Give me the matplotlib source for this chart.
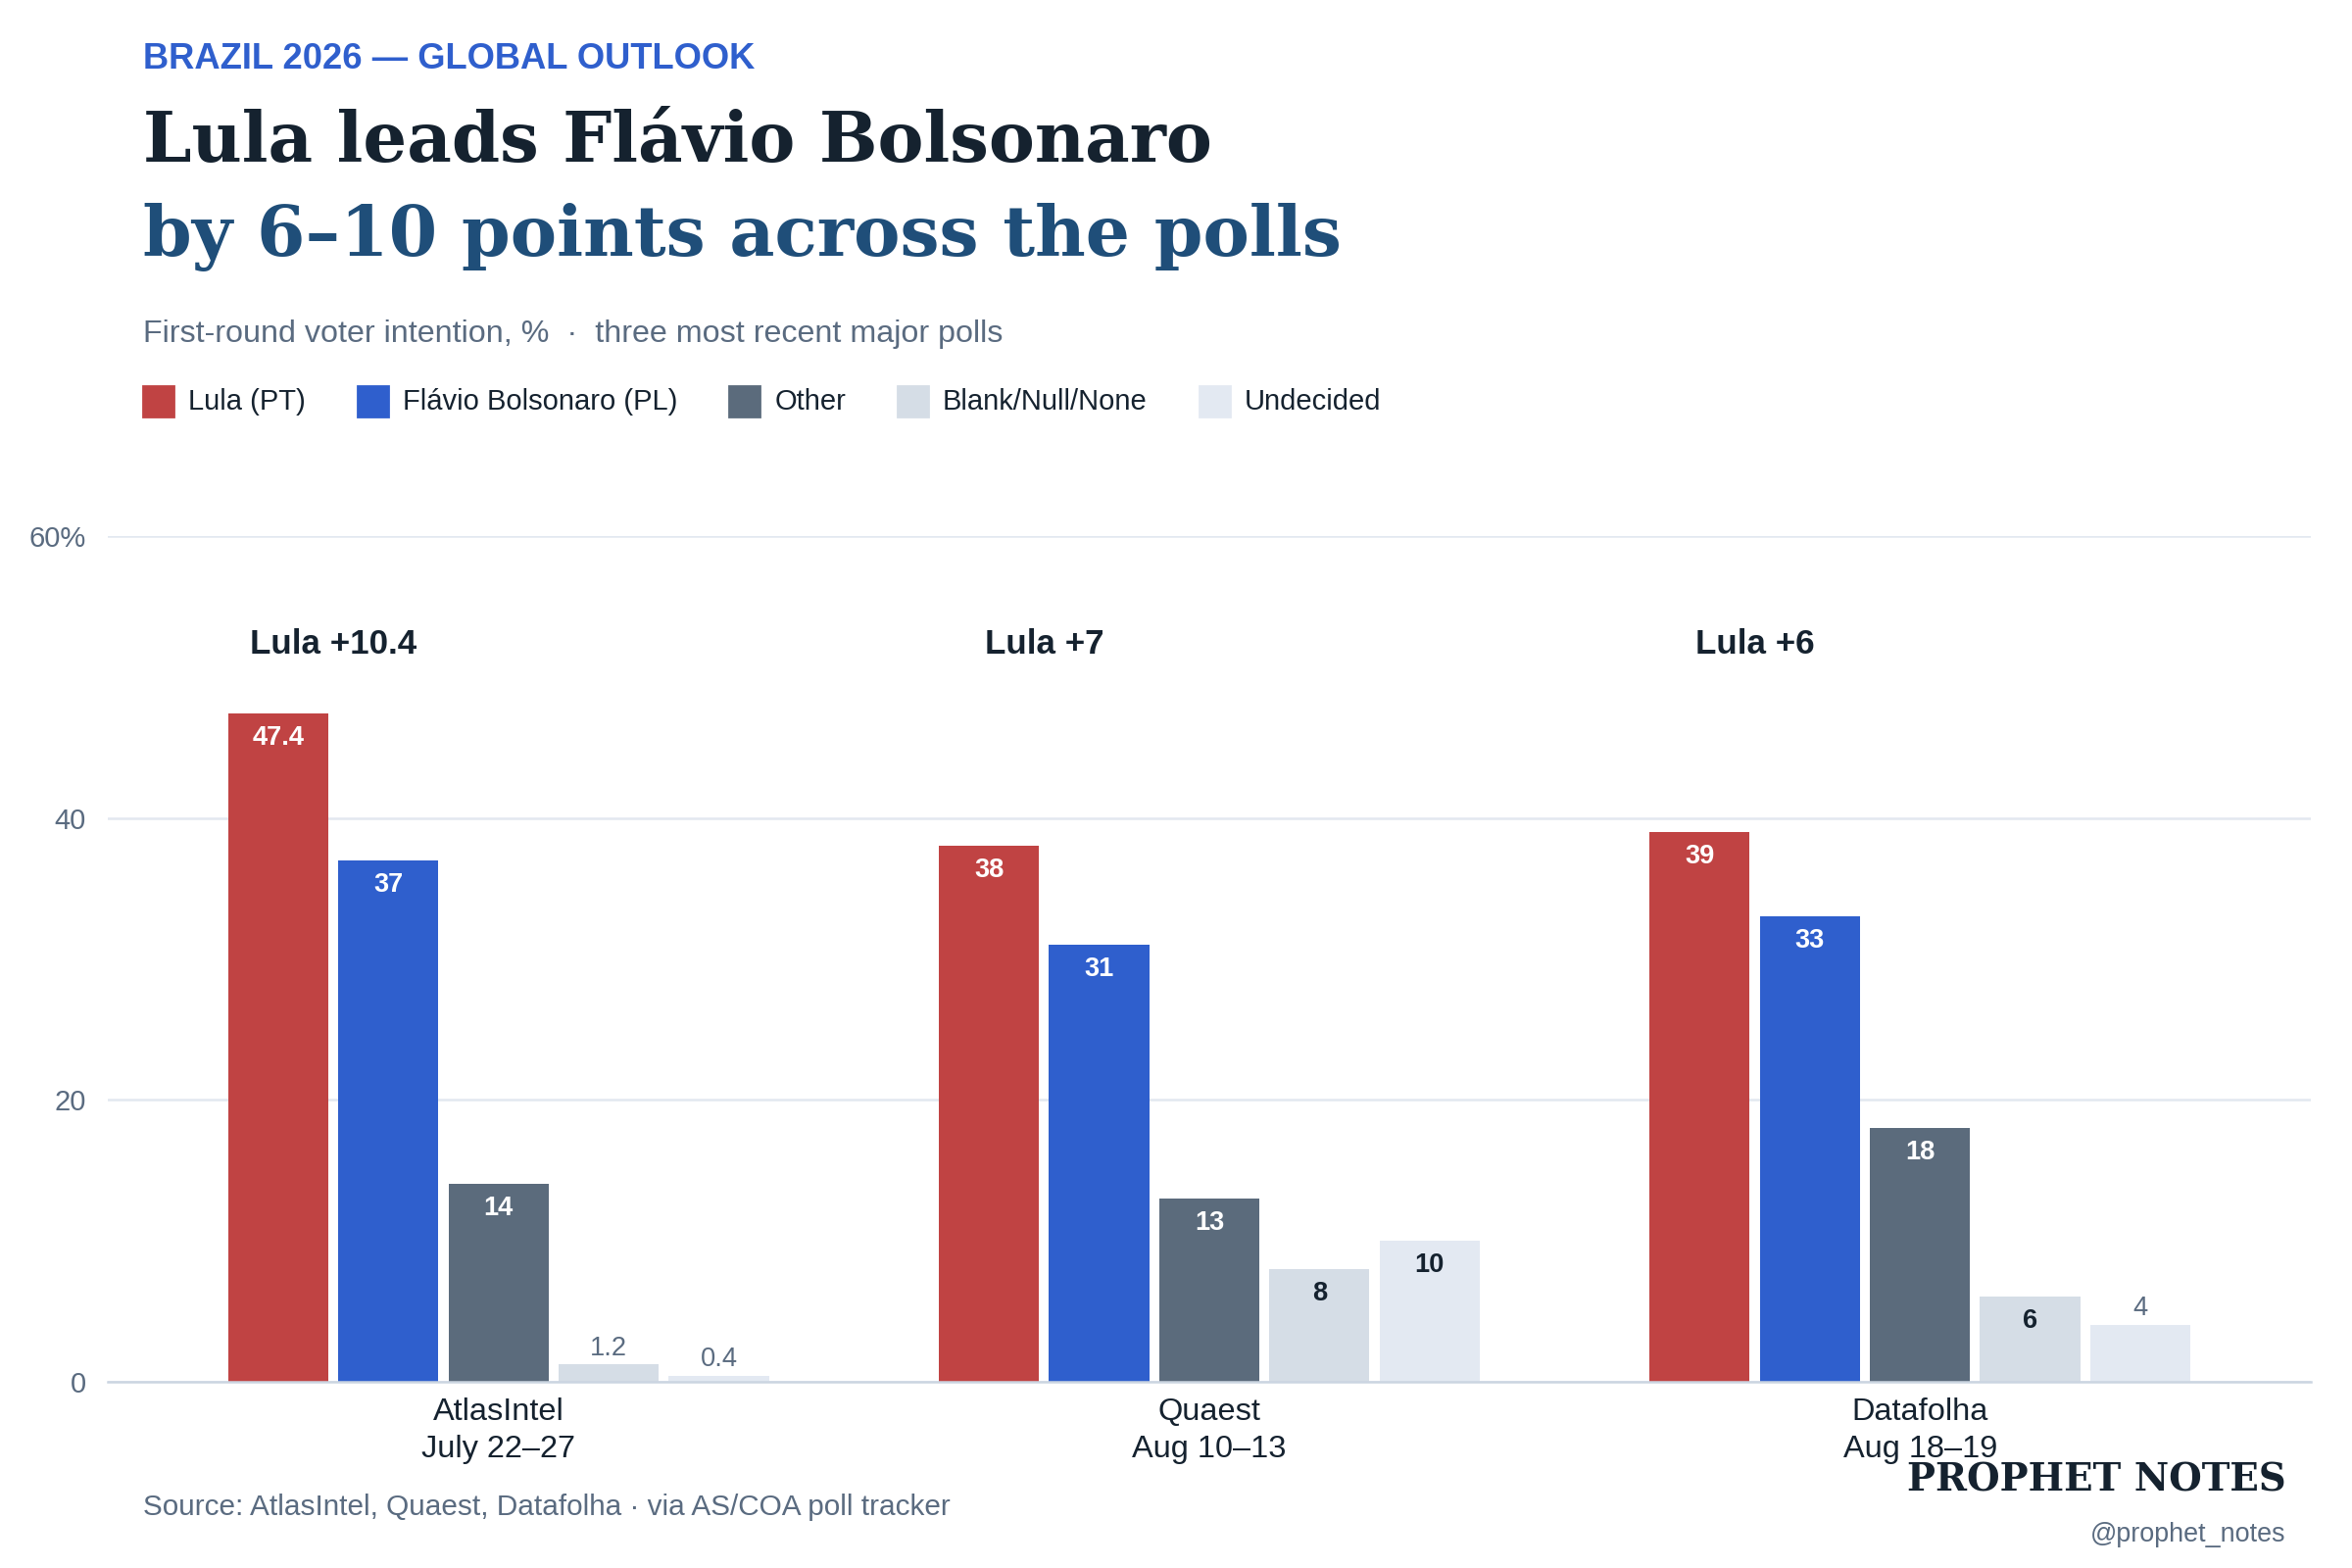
import matplotlib
matplotlib.use("Agg")
import matplotlib.pyplot as plt
from matplotlib.patches import Rectangle
import numpy as np

# ---------------------------------------------------------------
# Data
# ---------------------------------------------------------------
polls = ["AtlasIntel", "Quaest", "Datafolha"]
poll_dates = ["July 22–27", "Aug 10–13", "Aug 18–19"]
series = ["Lula (PT)", "Flávio Bolsonaro (PL)", "Other", "Blank/Null/None", "Undecided"]
lula = [47.4, 38, 39]
flavio = [37, 31, 33]
other = [14, 13, 18]
blank = [1.2, 8, 6]
undecided = [0.4, 10, 4]
yticks = [0, 20, 40, 60]
ytick_labels = ["0", "20", "40", "60%"]

colors = ["#c04343", "#2f5fcd", "#5b6b7c", "#d5dde6", "#e3e9f2"]
light_series = [False, False, False, True, True]

DARK = "#15222f"
GRAY = "#5a6b80"
SANS = ["Liberation Sans", "DejaVu Sans"]
SERIF = ["DejaVu Serif"]

plt.rcParams["font.family"] = SANS

fig = plt.figure(figsize=(12, 8), dpi=200)
ax = fig.add_axes([0.0458, 0.119, 0.9367, 0.539])

x = np.arange(len(polls))
step = 0.155
width = 0.141
values = [lula, flavio, other, blank, undecided]

for i, vals in enumerate(values):
    offs = (i - 2) * step
    bars = ax.bar(x + offs, vals, width, color=colors[i], zorder=2)
    for b, v in zip(bars, vals):
        cx = b.get_x() + b.get_width() / 2
        if v >= 5:
            tcol = DARK if light_series[i] else "white"
            ax.annotate(f"{v:g}", (cx, v), xytext=(0, -9), textcoords="offset points",
                        ha="center", va="center", fontsize=9.8, fontweight="bold",
                        color=tcol, zorder=3)
        else:
            ax.annotate(f"{v:g}", (cx, v), xytext=(0, 6), textcoords="offset points",
                        ha="center", va="center", fontsize=9.8, color=GRAY, zorder=3)

# lead labels over the first two bars of each group
for gi in range(len(polls)):
    lead = round(lula[gi] - flavio[gi], 1)
    cx = x[gi] + (-2 + -1) / 2 * step
    ax.text(cx, 52.3, f"Lula +{lead:g}", ha="center", va="center",
            fontsize=12.6, fontweight="bold", color=DARK)

ax.set_xlim(-0.55, 2.55)
ax.set_ylim(0, 60)
ax.set_yticks(yticks)
ax.set_yticklabels(ytick_labels)
ax.set_xticks(x)
ax.set_xticklabels([f"{p}\n{d}" for p, d in zip(polls, poll_dates)], linespacing=1.32)
ax.tick_params(axis="y", length=0, pad=8, labelsize=10.5, labelcolor=GRAY)
ax.tick_params(axis="x", length=0, pad=6, labelsize=11.7, labelcolor=DARK)
ax.grid(axis="y", color="#e2e8f0", linewidth=0.9, zorder=0)
for s in ["top", "right", "left"]:
    ax.spines[s].set_visible(False)
ax.spines["bottom"].set_color("#cbd5e1")
ax.spines["bottom"].set_linewidth(0.9)
ax.spines["bottom"].set_zorder(4)

# ---------------------------------------------------------------
# Header text
# ---------------------------------------------------------------
LX = 146 / 2400
fig.text(LX, 0.9625, "BRAZIL 2026 — GLOBAL OUTLOOK", fontsize=13.1, fontweight="bold",
         color="#2f5fcd", va="center", ha="left")
fig.text(LX, 0.909, "Lula leads Flávio Bolsonaro", family=SERIF, fontsize=25.4,
         fontweight="bold", color=DARK, va="center", ha="left")
fig.text(LX, 0.849, "by 6–10 points across the polls", family=SERIF, fontsize=25.6,
         fontweight="bold", color="#1f4e79", va="center", ha="left")
fig.text(LX, 0.787, "First-round voter intention, %  ·  three most recent major polls",
         fontsize=11.6, color=GRAY, va="center", ha="left")

# legend row
renderer = fig.canvas.get_renderer()
lx_px = 146
ly = 0.744
sq = 31
for name, col in zip(series, colors):
    fig.patches.append(Rectangle((lx_px / 2400, ly - sq / 2 / 1600), sq / 2400, sq / 1600,
                                 transform=fig.transFigure, color=col, figure=fig))
    t = fig.text((lx_px + 46) / 2400, ly, name, fontsize=10.5, color=DARK,
                 va="center", ha="left")
    w = t.get_window_extent(renderer).width
    lx_px = lx_px + 46 + w + 53

# ---------------------------------------------------------------
# Footer
# ---------------------------------------------------------------
fig.text(LX, 0.039, "Source: AtlasIntel, Quaest, Datafolha · via AS/COA poll tracker",
         fontsize=10.7, color=GRAY, va="center", ha="left")
fig.text(0.972, 0.056, "PROPHET NOTES", family=SERIF, fontsize=13.9, fontweight="bold",
         color=DARK, va="center", ha="right")
fig.text(0.972, 0.021, "@prophet_notes", fontsize=9.7, color=GRAY, va="center", ha="right")

fig.savefig("out.png", dpi=200, facecolor="white")
